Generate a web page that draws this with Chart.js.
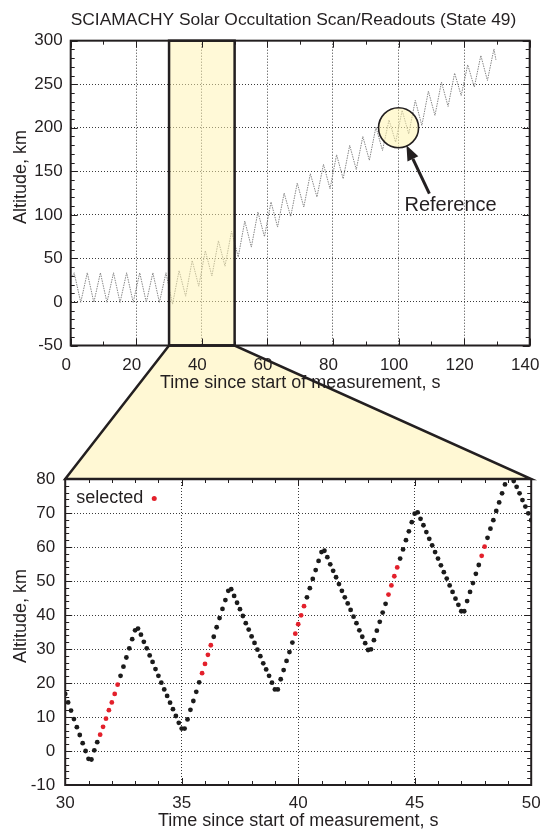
<!DOCTYPE html>
<html>
<head>
<meta charset="utf-8">
<script src="https://cdn.jsdelivr.net/npm/chart.js@4/dist/chart.umd.min.js"></script>
<style>
  html, body { margin: 0; padding: 0; background: #ffffff; overflow: hidden; }
  #wrap { position: relative; width: 542px; height: 829px; }
  #wrap canvas { position: absolute; left: 0; top: 0; }
</style>
</head>
<body>
<div id="wrap">
  <canvas id="overview" width="542" height="829"></canvas>
  <canvas id="detail" width="542" height="829"></canvas>
</div>
<script>
// ---------------- texts ----------------
const chartTitle = 'SCIAMACHY Solar Occultation Scan/Readouts (State 49)';
const timeAxisTitle = 'Time since start of measurement, s';
const altitudeAxisTitle = 'Altitude, km';
const selectedLabel = 'selected';
const referenceLabel = 'Reference';

// ---------------- tick labels ----------------
const overviewTimeTicks = [0, 20, 40, 60, 80, 100, 120, 140];
const overviewAltitudeTicks = [-50, 0, 50, 100, 150, 200, 250, 300];
const detailTimeTicks = [30, 35, 40, 45, 50];
const detailAltitudeTicks = [-10, 0, 10, 20, 30, 40, 50, 60, 70, 80];

// ---------------- overview: scan turning points (s, km) ----------------
const scanTime = [0.6, 1.06, 3.06, 5.06, 7.06, 9.06, 11.06, 13.06, 15.06, 17.06, 19.06,
  21.06, 23.06, 25.06, 27.06, 29.06, 31.06, 33.06, 35.06, 37.06, 39.06, 41.06, 43.06,
  45.06, 47.06, 49.06, 51.1, 53.1, 55.1, 57.1, 59.1, 61.1, 63.1, 65.1, 67.1, 69.1, 71.1,
  73.1, 75.1, 77.1, 79.1, 81.1, 83.1, 85.1, 87.1, 89.1, 91.1, 93.1, 95.1, 97.1, 99.1,
  101.1, 103.1, 105.1, 107.1, 109.1, 111.1, 113.1, 115.1, 117.1, 119.1, 121.1, 123.1,
  125.1, 127.1, 129.1, 129.7];
const scanAltitude = [30, 33.5, -0.5, 33.5, -0.5, 33.5, -0.5, 33.5, -0.5, 33.5, -0.5,
  33.5, -0.5, 33.5, -0.5, 33.5, -2.5, 36.0, 6.6, 47.6, 18.1, 58.9, 29.8,
  70.2, 41.1, 81.1, 51.6, 92.9, 63.0, 103.3, 75.0, 114.8, 86.0, 125.0, 98.0, 136.5, 109.0,
  147.3, 120.5, 158.0, 130.0, 169.0, 141.5, 179.8, 152.0, 190.0, 162.6, 200.8, 174.0, 209.0, 183.6,
  220.0, 193.0, 231.4, 202.7, 242.0, 214.2, 252.4, 224.5, 262.7, 237.0, 272.3, 246.7,
  283.0, 254.3, 290.5, 278.0];

// zoomed window and reference annotation (data units)
const zoomWindow = [30, 50];
const referencePoint = [100, 200];
const referenceArrowFrom = [109.4, 124.5];
const referenceArrowTo = [102.4, 179.8];
const referenceLabelAt = [101.8, 105];

// ---------------- detail: individual readouts ----------------
const readoutTime = [
  30, 30.125, 30.25, 30.375, 30.5, 30.625, 30.75, 30.875,
  31, 31.125, 31.25, 31.375, 31.5, 31.625, 31.75, 31.875,
  32, 32.125, 32.25, 32.375, 32.5, 32.625, 32.75, 32.875,
  33, 33.125, 33.25, 33.375, 33.5, 33.625, 33.75, 33.875,
  34, 34.125, 34.25, 34.375, 34.5, 34.625, 34.75, 34.875,
  35, 35.125, 35.25, 35.375, 35.5, 35.625, 35.75, 35.875,
  36, 36.125, 36.25, 36.375, 36.5, 36.625, 36.75, 36.875,
  37, 37.125, 37.25, 37.375, 37.5, 37.625, 37.75, 37.875,
  38, 38.125, 38.25, 38.375, 38.5, 38.625, 38.75, 38.875,
  39, 39.125, 39.25, 39.375, 39.5, 39.625, 39.75, 39.875,
  40, 40.125, 40.25, 40.375, 40.5, 40.625, 40.75, 40.875,
  41, 41.125, 41.25, 41.375, 41.5, 41.625, 41.75, 41.875,
  42, 42.125, 42.25, 42.375, 42.5, 42.625, 42.75, 42.875,
  43, 43.125, 43.25, 43.375, 43.5, 43.625, 43.75, 43.875,
  44, 44.125, 44.25, 44.375, 44.5, 44.625, 44.75, 44.875,
  45, 45.125, 45.25, 45.375, 45.5, 45.625, 45.75, 45.875,
  46, 46.125, 46.25, 46.375, 46.5, 46.625, 46.75, 46.875,
  47, 47.125, 47.25, 47.375, 47.5, 47.625, 47.75, 47.875,
  48, 48.125, 48.25, 48.375, 48.5, 48.625, 48.75, 48.875,
  49, 49.125, 49.25, 49.375, 49.5, 49.625, 49.75, 49.875,
  50];
const readoutAltitude = [
  16.8, 14.3, 11.9, 9.4, 7.0, 4.7, 2.3, 0.0,
  -2.3, -2.5, 0.2, 2.6, 4.8, 7.1, 9.5, 12.0,
  14.3, 16.8, 19.5, 22.1, 24.8, 27.5, 30.2, 32.9,
  35.5, 36.0, 34.2, 32.1, 30.2, 28.1, 26.2, 24.1,
  22.1, 20.1, 18.1, 16.2, 14.2, 12.3, 10.3, 8.3,
  6.6, 6.6, 9.3, 12.1, 14.7, 17.4, 20.2, 22.9,
  25.6, 28.3, 31.1, 33.6, 36.4, 39.1, 41.8, 44.4,
  47.1, 47.6, 45.6, 43.6, 41.7, 39.7, 37.6, 35.7,
  33.7, 31.8, 29.8, 27.9, 25.8, 24.0, 22.1, 20.1,
  18.1, 18.1, 21.1, 23.8, 26.5, 29.1, 31.9, 34.5,
  37.3, 39.9, 42.6, 45.2, 47.9, 50.6, 53.2, 55.9,
  58.5, 58.9, 57.0, 54.9, 53.0, 51.1, 49.1, 47.1,
  45.2, 43.4, 41.5, 39.5, 37.6, 35.5, 33.6, 31.7,
  29.7, 29.9, 32.6, 35.4, 38.0, 40.7, 43.3, 46.0,
  48.7, 51.4, 54.0, 56.6, 59.3, 62.0, 64.6, 67.3,
  69.8, 70.2, 68.3, 66.4, 64.4, 62.4, 60.5, 58.5,
  56.6, 54.6, 52.6, 50.7, 48.7, 46.8, 44.8, 43.0,
  41.1, 41.1, 44.1, 46.8, 49.4, 52.1, 54.7, 57.4,
  60.1, 62.7, 65.4, 67.9, 70.6, 73.1, 75.8, 78.4,
  80.9, 81.1, 79.4, 77.7, 75.8, 73.8, 71.9, 69.9,
  67.9];
const selectedReadouts = [12, 13, 14, 15, 16, 17, 18, 47, 48, 49, 50,
  79, 80, 81, 82, 111, 112, 113, 114, 143, 144];

// ---------------- styles ----------------
const FONT = "'Liberation Sans', Arial, Helvetica, sans-serif";
const INK = '#231f20';
const DOT = '#1b1b1b';
const RED = '#e3202b';
const HIGHLIGHT = '#fff8d4';
Chart.defaults.font.family = FONT;
Chart.defaults.color = INK;

const selectedSet = new Set(selectedReadouts);

function axisCommon(ticksArr, labelPad, fitFn, labelShift) {
  return {
    type: 'linear',
    min: ticksArr[0],
    max: ticksArr[ticksArr.length - 1],
    ticks: { stepSize: ticksArr[1] - ticksArr[0], padding: labelPad, font: { size: 17 },
             color: INK, maxRotation: 0, autoSkip: false, labelOffset: labelShift || 0 },
    grid: { color: '#3a3a3a', lineWidth: 1, drawTicks: false, borderDash: [1, 2] },
    border: { display: false, dash: [1, 2] },
    afterFit: fitFn
  };
}

function drawFrameAndTicks(chart, minorX, minorY) {
  const { ctx, chartArea: a } = chart;
  const xs = chart.scales.x, ys = chart.scales.y;
  ctx.save();
  ctx.strokeStyle = INK;
  ctx.lineWidth = 1;
  ctx.beginPath();
  const nX = Math.round((xs.max - xs.min) / minorX);
  for (let i = 0; i <= nX; i++) {
    const v = xs.min + i * minorX;
    const major = xs.ticks.some(t => Math.abs(t.value - v) < 1e-6);
    const len = major ? 7 : 4;
    const px = Math.round(xs.getPixelForValue(v)) + 0.5;
    ctx.moveTo(px, a.bottom); ctx.lineTo(px, a.bottom - len);
    ctx.moveTo(px, a.top); ctx.lineTo(px, a.top + len);
  }
  const nY = Math.round((ys.max - ys.min) / minorY);
  for (let i = 0; i <= nY; i++) {
    const v = ys.min + i * minorY;
    const major = ys.ticks.some(t => Math.abs(t.value - v) < 1e-6);
    const len = major ? 7 : 4;
    const py = Math.round(ys.getPixelForValue(v)) + 0.5;
    ctx.moveTo(a.left, py); ctx.lineTo(a.left + len, py);
    ctx.moveTo(a.right, py); ctx.lineTo(a.right - len, py);
  }
  ctx.stroke();
  ctx.lineWidth = 2;
  ctx.strokeRect(a.left, a.top, a.right - a.left, a.bottom - a.top);
  ctx.restore();
}

function drawAltitudeTitle(chart) {
  const { ctx, chartArea: a } = chart;
  ctx.save();
  ctx.font = '18px ' + FONT;
  ctx.fillStyle = INK;
  ctx.textAlign = 'center';
  ctx.textBaseline = 'middle';
  ctx.translate(20.7, (a.top + a.bottom) / 2 - 16);
  ctx.rotate(-Math.PI / 2);
  ctx.fillText(altitudeAxisTitle, 0, 0);
  ctx.restore();
}

function fitX(height) {
  return s => { s.height = height; s.paddingLeft = 0; s.paddingRight = 0; };
}
function fitY(width) {
  return s => { s.width = width; s.paddingTop = 0; s.paddingBottom = 0; };
}

// ---------------- detail chart (created first so the overview can link to it) ----------------
const detailDecor = {
  id: 'detailDecor',
  afterDatasetsDraw(chart) {
    drawFrameAndTicks(chart, 1, 2);
  },
  afterDraw(chart) {
    const { ctx, chartArea: a } = chart;
    ctx.save();
    ctx.font = '18px ' + FONT;
    ctx.fillStyle = INK;
    ctx.textAlign = 'left';
    ctx.textBaseline = 'alphabetic';
    const tx = a.left + 11, ty = a.top + 24;
    ctx.fillText(selectedLabel, tx, ty);
    const w = ctx.measureText(selectedLabel).width;
    ctx.fillStyle = RED;
    ctx.beginPath();
    ctx.arc(tx + w + 11, ty - 4.6, 2.5, 0, Math.PI * 2);
    ctx.fill();
    ctx.restore();
    drawAltitudeTitle(chart);
  }
};

const detailChart = new Chart(document.getElementById('detail'), {
  type: 'scatter',
  data: {
    datasets: [{
      label: 'readouts',
      data: readoutTime.map((t, i) => ({ x: t, y: readoutAltitude[i] })),
      pointRadius: 2.4,
      pointBorderWidth: 0,
      pointBackgroundColor: c => selectedSet.has(c.dataIndex) ? RED : DOT,
      clip: 0
    }]
  },
  options: {
    responsive: false, animation: false, events: [],
    layout: { padding: { left: 10.2, right: 10.8, top: 479, bottom: 0 } },
    plugins: { legend: { display: false }, tooltip: { enabled: false } },
    scales: {
      x: Object.assign(axisCommon(detailTimeTicks, 7.8, fitX(44)), {
        title: { display: true, text: timeAxisTitle, font: { size: 18 }, color: INK,
                 padding: { top: 0, bottom: -2.8 } }
      }),
      y: axisCommon(detailAltitudeTicks, 10, fitY(55))
    }
  },
  plugins: [detailDecor]
});

// ---------------- overview chart ----------------
function px(chart, t, alt) {
  return [chart.scales.x.getPixelForValue(t), chart.scales.y.getPixelForValue(alt)];
}
function zoomTrapezoid(chart) {
  const y = chart.scales.y, bx = detailChart.scales.x, by = detailChart.scales.y;
  return [
    px(chart, zoomWindow[0], y.min),
    px(chart, zoomWindow[1], y.min),
    [bx.getPixelForValue(zoomWindow[1]), by.getPixelForValue(by.max)],
    [bx.getPixelForValue(zoomWindow[0]), by.getPixelForValue(by.max)]
  ];
}
function tracePoly(ctx, pts) {
  ctx.beginPath();
  ctx.moveTo(pts[0][0], pts[0][1]);
  for (let i = 1; i < pts.length; i++) ctx.lineTo(pts[i][0], pts[i][1]);
  ctx.closePath();
}

const overviewDecor = {
  id: 'overviewDecor',
  beforeDraw(chart) {
    const ctx = chart.ctx;
    ctx.save();
    ctx.fillStyle = HIGHLIGHT;
    tracePoly(ctx, zoomTrapezoid(chart));
    ctx.fill();
    ctx.restore();
  },
  afterDatasetsDraw(chart) {
    const ctx = chart.ctx;
    const y = chart.scales.y;
    // zoom window rectangle
    const p0 = px(chart, zoomWindow[0], y.max), p1 = px(chart, zoomWindow[1], y.min);
    ctx.save();
    ctx.fillStyle = 'rgba(255, 244, 175, 0.5)';
    ctx.fillRect(p0[0], p0[1], p1[0] - p0[0], p1[1] - p0[1]);
    ctx.lineWidth = 2.5;
    ctx.strokeStyle = INK;
    ctx.strokeRect(p0[0], p0[1], p1[0] - p0[0], p1[1] - p0[1]);
    // reference circle
    const c = px(chart, referencePoint[0], referencePoint[1]);
    ctx.beginPath();
    ctx.arc(c[0], c[1], 20, 0, Math.PI * 2);
    ctx.fillStyle = 'rgba(255, 244, 175, 0.55)';
    ctx.fill();
    ctx.lineWidth = 1.6;
    ctx.stroke();
    // arrow
    const a0 = px(chart, referenceArrowFrom[0], referenceArrowFrom[1]);
    const a1 = px(chart, referenceArrowTo[0], referenceArrowTo[1]);
    const ang = Math.atan2(a1[1] - a0[1], a1[0] - a0[0]);
    const headLen = 15, headHalf = 6;
    const bxp = a1[0] - headLen * Math.cos(ang), byp = a1[1] - headLen * Math.sin(ang);
    ctx.lineWidth = 3;
    ctx.beginPath();
    ctx.moveTo(a0[0], a0[1]);
    ctx.lineTo(bxp, byp);
    ctx.stroke();
    ctx.fillStyle = INK;
    ctx.beginPath();
    ctx.moveTo(a1[0], a1[1]);
    ctx.lineTo(bxp + headHalf * Math.sin(ang), byp - headHalf * Math.cos(ang));
    ctx.lineTo(bxp - headHalf * Math.sin(ang), byp + headHalf * Math.cos(ang));
    ctx.closePath();
    ctx.fill();
    // label
    const l = px(chart, referenceLabelAt[0], referenceLabelAt[1]);
    ctx.font = '20px ' + FONT;
    ctx.textAlign = 'left';
    ctx.textBaseline = 'alphabetic';
    ctx.fillText(referenceLabel, l[0], l[1]);
    ctx.restore();
    drawFrameAndTicks(chart, 10, 10);
  },
  afterDraw(chart) {
    const ctx = chart.ctx;
    ctx.save();
    ctx.strokeStyle = INK;
    ctx.lineWidth = 2.5;
    ctx.lineJoin = 'miter';
    tracePoly(ctx, zoomTrapezoid(chart));
    ctx.stroke();
    ctx.restore();
    drawAltitudeTitle(chart);
  }
};

const overviewChart = new Chart(document.getElementById('overview'), {
  type: 'line',
  data: {
    datasets: [{
      label: 'scan',
      data: scanTime.map((t, i) => ({ x: t, y: scanAltitude[i] })),
      borderColor: '#858585',
      borderWidth: 1,
      borderDash: [1.5, 1],
      pointRadius: 0,
      tension: 0,
      fill: false
    }]
  },
  options: {
    responsive: false, animation: false, events: [],
    layout: { padding: { left: 10.7, right: 12.3, top: 0, bottom: 435.2 } },
    plugins: {
      legend: { display: false }, tooltip: { enabled: false },
      title: { display: true, text: chartTitle, fullSize: false, align: 'start',
               font: { size: 17.4, weight: 'normal' },
               color: INK, padding: { top: 10, bottom: 9.8 } }
    },
    scales: {
      x: Object.assign(axisCommon(overviewTimeTicks, 9.3, fitX(48.3), -4.5), {
        title: { display: true, text: timeAxisTitle, font: { size: 18 }, color: INK,
                 padding: { top: 0, bottom: 0 } }
      }),
      y: axisCommon(overviewAltitudeTicks, 8, fitY(60))
    }
  },
  plugins: [overviewDecor]
});
</script>
</body>
</html>
